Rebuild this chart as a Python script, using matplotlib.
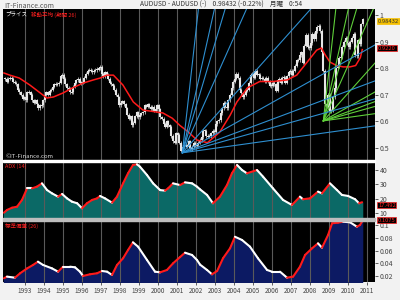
import numpy as np
import matplotlib
matplotlib.use("Agg")
import matplotlib.pyplot as plt
from matplotlib.collections import LineCollection

plt.rcParams['font.family'] = ['Noto Sans CJK JP', 'DejaVu Sans']

# ---------------- data ----------------
start_year = 1991
start_month = 12
closes = [
    0.76,
    0.75, 0.76, 0.765, 0.76, 0.75, 0.745, 0.74, 0.72, 0.71, 0.70, 0.685, 0.69,
    0.68, 0.71, 0.71, 0.70, 0.68, 0.67, 0.68, 0.665, 0.65, 0.66, 0.66, 0.68,
    0.70, 0.71, 0.70, 0.715, 0.72, 0.73, 0.74, 0.74, 0.74, 0.745, 0.77, 0.775,
    0.76, 0.74, 0.725, 0.725, 0.71, 0.71, 0.73, 0.745, 0.755, 0.76, 0.745, 0.745,
    0.75, 0.765, 0.78, 0.79, 0.795, 0.79, 0.785, 0.79, 0.795, 0.795, 0.80, 0.805,
    0.78, 0.77, 0.785, 0.775, 0.76, 0.745, 0.74, 0.735, 0.72, 0.70, 0.69, 0.66,
    0.67, 0.675, 0.665, 0.65, 0.625, 0.61, 0.62, 0.585, 0.595, 0.62, 0.635, 0.615,
    0.625, 0.63, 0.635, 0.66, 0.655, 0.665, 0.655, 0.645, 0.655, 0.64, 0.645, 0.66,
    0.645, 0.615, 0.61, 0.59, 0.58, 0.60, 0.585, 0.58, 0.545, 0.525, 0.52, 0.555,
    0.55, 0.52, 0.49, 0.505, 0.51, 0.51, 0.505, 0.525, 0.495, 0.505, 0.52, 0.51,
    0.51, 0.52, 0.53, 0.54, 0.565, 0.565, 0.545, 0.545, 0.545, 0.555, 0.565, 0.56,
    0.59, 0.60, 0.605, 0.63, 0.65, 0.67, 0.655, 0.65, 0.68, 0.70, 0.725, 0.75,
    0.76, 0.78, 0.765, 0.72, 0.705, 0.69, 0.70, 0.715, 0.72, 0.745, 0.775, 0.78,
    0.765, 0.79, 0.775, 0.775, 0.76, 0.765, 0.76, 0.75, 0.765, 0.75, 0.735, 0.735,
    0.745, 0.74, 0.715, 0.755, 0.76, 0.745, 0.765, 0.765, 0.745, 0.77, 0.785, 0.79,
    0.775, 0.79, 0.81, 0.83, 0.83, 0.85, 0.86, 0.82, 0.885, 0.925, 0.88, 0.875,
    0.895, 0.93, 0.91, 0.94, 0.955, 0.96, 0.94, 0.86, 0.79, 0.665, 0.655, 0.70,
    0.64, 0.64, 0.69, 0.725, 0.80, 0.805, 0.84, 0.84, 0.88, 0.90, 0.915, 0.895,
    0.88, 0.90, 0.915, 0.93, 0.85, 0.845, 0.905, 0.89, 0.965, 0.984,
]

ma_dates = [1991.89, 1992.2, 1992.7, 1993.25, 1993.8, 1994.15, 1994.5, 1995.0, 1995.5,
            1996.05, 1996.6, 1996.95, 1997.3, 1997.65, 1998.15, 1998.7, 1999.2, 1999.95,
            2000.25, 2000.75, 2001.15, 2001.6, 2002.05, 2002.6, 2003.25, 2003.8, 2004.15,
            2004.7, 2005.35, 2006.05, 2006.8, 2007.3, 2007.85, 2008.35, 2008.6, 2008.8,
            2009.05, 2009.4, 2009.75, 2010.1, 2010.4, 2010.65, 2010.75]
ma_values = [0.782, 0.774, 0.763, 0.737, 0.707, 0.688, 0.692, 0.707, 0.726,
             0.744, 0.756, 0.763, 0.774, 0.774, 0.737, 0.673, 0.643, 0.635,
             0.632, 0.612, 0.585, 0.56, 0.53, 0.52, 0.56, 0.624, 0.673,
             0.726, 0.75, 0.75, 0.756, 0.774, 0.823, 0.868, 0.876, 0.85,
             0.823, 0.81, 0.805, 0.805, 0.81, 0.84, 0.87]

adx_dates = [1991.89, 1992.05, 1992.32, 1992.58, 1992.84, 1993.11, 1993.37, 1993.63, 1993.89,
             1994.16, 1994.42, 1994.74, 1994.95, 1995.21, 1995.47, 1995.74, 1996.0, 1996.26,
             1996.53, 1996.79, 1996.95, 1997.21, 1997.58, 1997.84, 1998.16, 1998.42, 1998.68,
             1998.89, 1999.05, 1999.42, 1999.74, 2000.11, 2000.37, 2000.53, 2000.79, 2001.16,
             2001.42, 2001.79, 2002.05, 2002.21, 2002.58, 2002.89, 2003.26, 2003.63, 2003.89,
             2004.16, 2004.42, 2004.68, 2005.21, 2005.53, 2006.05, 2006.58, 2007.05, 2007.47,
             2007.63, 2008.0, 2008.42, 2008.63, 2009.05, 2009.42, 2009.68, 2010.0, 2010.37,
             2010.58, 2010.74]
adx_values = [10.2, 12.1, 13.7, 14.4, 19.1, 27.2, 27.2, 28.4, 30.7,
              26.0, 23.7, 21.4, 23.3, 20.2, 17.9, 16.8, 13.3, 16.8,
              19.1, 20.2, 21.9, 20.2, 17.2, 21.4, 30.7, 37.7, 43.5,
              44.0, 42.3, 36.5, 30.7, 26.0, 25.6, 27.2, 30.7, 29.5,
              31.4, 30.7, 28.4, 26.5, 22.6, 16.8, 21.4, 29.5, 37.7,
              43.5, 40.0, 37.7, 40.0, 35.3, 27.2, 19.1, 15.6, 21.4,
              19.6, 20.2, 24.9, 23.7, 30.7, 26.0, 22.6, 21.9, 19.6,
              16.8, 17.5]

sd_dates = [1991.89, 1992.05, 1992.47, 1992.74, 1993.11, 1993.42, 1993.68, 1993.95, 1994.42,
            1994.74, 1995.0, 1995.37, 1995.63, 1995.89, 1996.05, 1996.42, 1996.79, 1997.05,
            1997.32, 1997.58, 1997.84, 1998.16, 1998.42, 1998.68, 1998.95, 1999.42, 1999.84,
            2000.11, 2000.47, 2000.79, 2001.16, 2001.42, 2001.79, 2002.05, 2002.21, 2002.58,
            2002.84, 2003.11, 2003.42, 2003.79, 2004.05, 2004.42, 2004.84, 2005.26, 2005.74,
            2006.0, 2006.42, 2006.79, 2007.11, 2007.47, 2007.74, 2008.11, 2008.42, 2008.63,
            2008.95, 2009.16, 2009.47, 2009.74, 2010.11, 2010.47, 2010.63, 2010.74]
sd_values = [0.0164, 0.019, 0.0173, 0.0243, 0.032, 0.0374, 0.0426, 0.0374, 0.032,
             0.0268, 0.0347, 0.0347, 0.0337, 0.0268, 0.020, 0.0227, 0.0243, 0.0279,
             0.0268, 0.0216, 0.0374, 0.048, 0.061, 0.0732, 0.0663, 0.0453, 0.0268,
             0.0258, 0.0295, 0.040, 0.050, 0.0568, 0.0532, 0.0453, 0.038, 0.0295,
             0.0227, 0.0279, 0.048, 0.0638, 0.082, 0.0769, 0.0663, 0.048, 0.0295,
             0.0268, 0.0268, 0.0173, 0.019, 0.0347, 0.0532, 0.0638, 0.0716, 0.0647,
             0.0848, 0.1033, 0.1042, 0.1058, 0.1048, 0.0979, 0.1006, 0.1062]

years = list(range(1993, 2012))

fan_ratios = [8, 4, 3, 2, 1, 1/2, 1/3, 1/4, 1/8]
fan_unit = 0.08           # price per year for the 1x1 line
blue_origin = (2001.28, 0.482)
green_origin = (2008.70, 0.602)

last_price_label = "0.98432"
last_ma_label = "0.9220"
last_adx_label = "17.492"
last_sd_label = "0.1075"

# ---------------- layout ----------------
W, H = 400, 300
fig = plt.figure(figsize=(4, 3), dpi=100, facecolor='#f2f2f2')

def rect(x0, y0, x1, y1):
    return [x0 / W, 1 - y1 / H, (x1 - x0) / W, (y1 - y0) / H]

XMIN, XMAX = 1991.84, 2011.42
ax1 = fig.add_axes(rect(3, 9, 375, 160))
ax2 = fig.add_axes(rect(3, 162, 375, 218))
ax3 = fig.add_axes(rect(3, 221, 375, 282))

fig.patches.append(plt.Rectangle((3 / W, 1 - 221 / H), 372 / W, 3 / H,
                                 transform=fig.transFigure, color='#bdbdbd', zorder=0))
fig.patches.append(plt.Rectangle((3 / W, 1 - 162 / H), 372 / W, 2 / H,
                                 transform=fig.transFigure, color='white', zorder=0))

for ax in (ax1, ax2, ax3):
    ax.set_facecolor('black')
    ax.set_xlim(XMIN, XMAX)
    for x in years:
        ax.axvline(x, color='#5a5a5a', lw=0.8, zorder=2)
    for s in ax.spines.values():
        s.set_visible(False)
    ax.yaxis.tick_right()
    ax.tick_params(axis='y', colors='#444444', labelsize=5, length=2, width=0.6, pad=1.5)
    ax.tick_params(axis='x', bottom=False, labelbottom=False)

# ---------------- price panel ----------------
ax1.set_ylim(0.455, 1.0226)
dates = [start_year + (start_month - 1 + i + 0.5) / 12 for i in range(len(closes))]
opens = [closes[0]] + closes[:-1]
for d, o, c in zip(dates, opens, closes):
    lo, hi = min(o, c), max(o, c)
    if hi - lo < 0.004:
        lo -= 0.002
        hi += 0.002
    ax1.vlines(d, lo - 0.006, hi + 0.006, color='#bfbfbf', lw=0.6, zorder=3)
    ax1.vlines(d, lo, hi, color='#e6e6e6', lw=1.5, zorder=3)

ax1.plot(ma_dates, ma_values, color='#ff1a1a', lw=1.1, zorder=4)

fan_x = np.array([0.0, 30.0])
for r in fan_ratios:
    ax1.plot(blue_origin[0] + fan_x, blue_origin[1] + r * fan_unit * fan_x,
             color='#2e8fd0', lw=0.8, zorder=5)
    ax1.plot(green_origin[0] + fan_x, green_origin[1] + r * fan_unit * fan_x,
             color='#5fcf3a', lw=0.8, zorder=5)

ax1.set_yticks([0.5, 0.6, 0.7, 0.8, 0.9, 1.0])
ax1.set_yticklabels(['0.5', '0.6', '0.7', '0.8', '0.9', '1'])

ax1.text(0.006, 0.985, 'プライス', transform=ax1.transAxes, color='white',
         fontsize=4, va='top', ha='left', zorder=6)
ax1.text(0.075, 0.985, '移動平均 (期間 26)', transform=ax1.transAxes, color='#ff2020',
         fontsize=4, va='top', ha='left', zorder=6)
ax1.text(0.006, 0.005, '©IT-Finance.com', transform=ax1.transAxes, color='#dddddd',
         fontsize=4.3, va='bottom', ha='left', zorder=6)

def value_box(ax, text, y, fc, tc, ec):
    ax.annotate(text, xy=(1.0, y), xycoords=('axes fraction', 'data'),
                xytext=(2.2, 0), textcoords='offset points', fontsize=4.2, color=tc,
                va='center', ha='left', annotation_clip=False, zorder=10,
                bbox=dict(boxstyle='square,pad=0.1', fc=fc, ec=ec, lw=0.5))

value_box(ax1, last_price_label, closes[-1] - 0.007, '#f5c000', '#333333', '#f5c000')
value_box(ax1, last_ma_label, ma_values[-1] + 0.005, 'black', '#ff2020', '#ff2020')

# ---------------- indicator panels ----------------
def rising_line(ax, xs, ys, fill_color, base):
    xs = np.asarray(xs)
    ys = np.asarray(ys)
    ax.fill_between(xs, ys, base, color=fill_color, zorder=1)
    segs = np.stack([np.column_stack([xs[:-1], ys[:-1]]),
                     np.column_stack([xs[1:], ys[1:]])], axis=1)
    cols = ['#ff1a1a' if b > a else 'white' for a, b in zip(ys[:-1], ys[1:])]
    ax.add_collection(LineCollection(segs, colors=cols, linewidths=1.5, zorder=4,
                                     capstyle='round'))

ax2.set_ylim(6.5, 45.6)
rising_line(ax2, adx_dates, adx_values, '#0b6966', 6.5)
ax2.set_yticks([10, 20, 30, 40])
ax2.text(0.006, 0.97, 'ADX (14)', transform=ax2.transAxes, color='#ff2020',
         fontsize=4, va='top', ha='left', zorder=6)
value_box(ax2, last_adx_label, 15.3, 'black', '#ff2020', '#ff2020')

ax3.set_ylim(0.0105, 0.1069)
rising_line(ax3, sd_dates, sd_values, '#0c1a63', 0.0105)
ax3.set_yticks([0.02, 0.04, 0.06, 0.08, 0.1])
ax3.set_yticklabels(['0.02', '0.04', '0.06', '0.08', '0.1'])
ax3.text(0.006, 0.97, '標準偏差 (26)', transform=ax3.transAxes, color='#ff2020',
         fontsize=4, va='top', ha='left', zorder=6)
value_box(ax3, last_sd_label, 0.1080, 'black', '#ff2020', '#ff2020')
ax3.set_xticks(years)
ax3.set_xticklabels([str(y) for y in years])
ax3.tick_params(axis='x', bottom=True, labelbottom=True, labelsize=4.6, colors='#444444',
                length=2, width=0.6, pad=1.5)

# ---------------- header ----------------
fig.text(4 / W, 1 - 6 / H, 'IT-Finance.com', fontsize=5, color='#555555', va='center')
fig.text(140 / W, 1 - 5 / H, 'AUDUSD - AUDUSD (-)    0.98432 (-0.22%)    月曜    0:54',
         fontsize=4.8, color='#333333', va='center')

fig.savefig('out.png', dpi=100, facecolor=fig.get_facecolor())
